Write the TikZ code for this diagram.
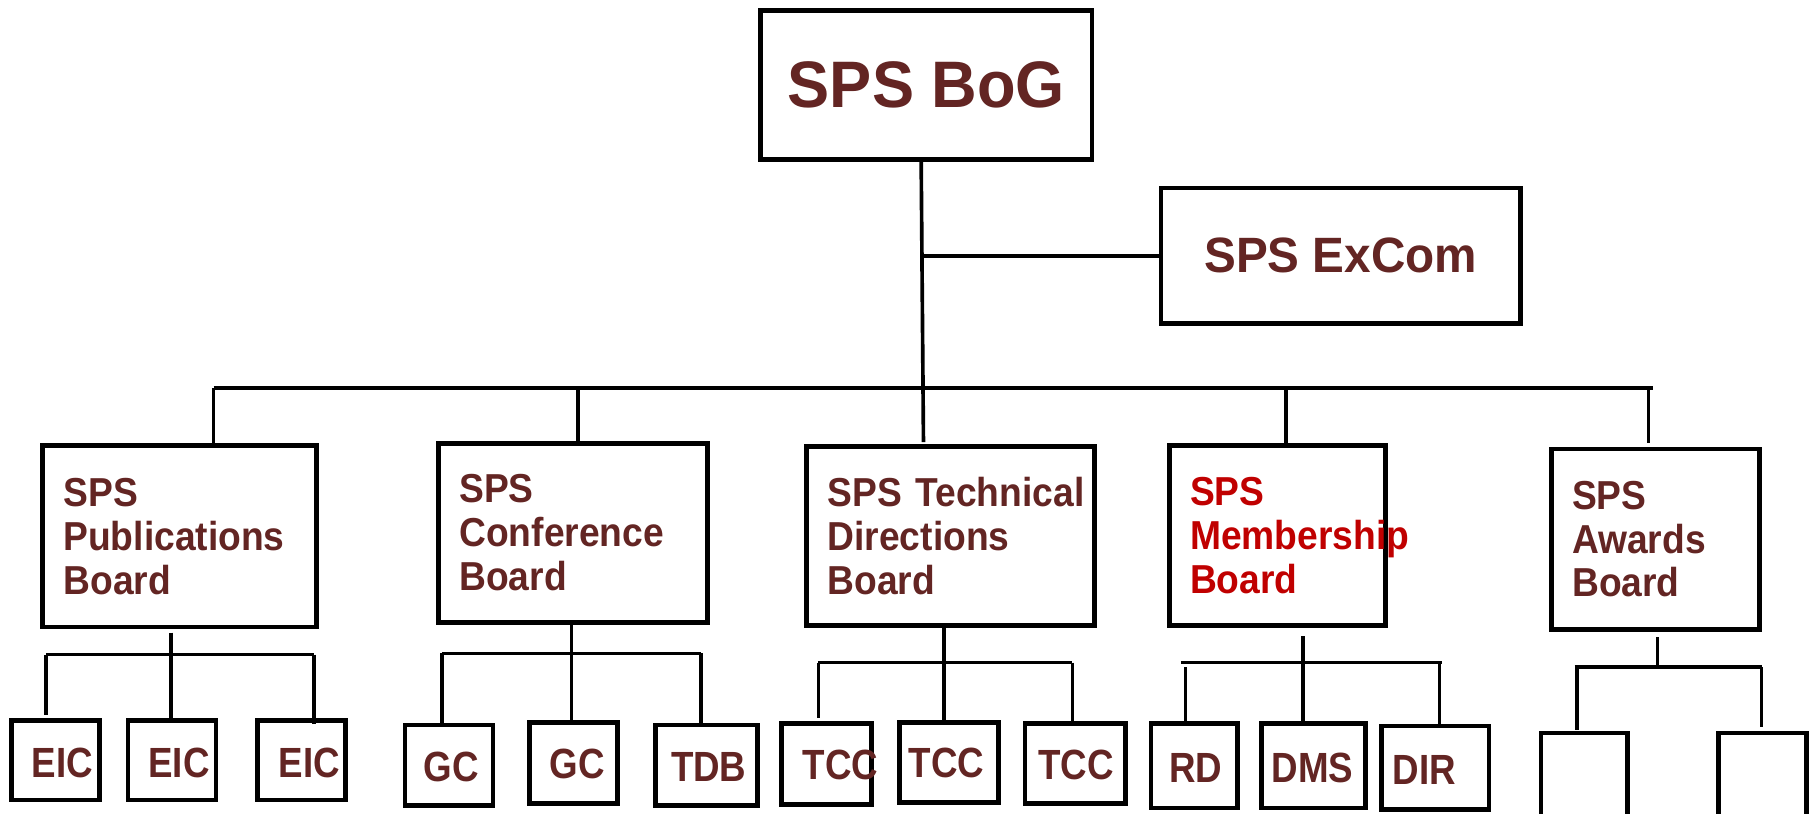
\documentclass[tikz,border=0pt]{standalone}
\usepackage{fontspec}
\setmainfont{Liberation Sans}
\newfontfamily\narrowf[FakeStretch=0.92]{Liberation Sans}
\newfontfamily\smallf[FakeStretch=0.87]{Liberation Sans}
\newfontfamily\titlef[FakeStretch=0.96]{Liberation Sans}
\definecolor{maroon}{RGB}{99,37,35}
\definecolor{memred}{RGB}{192,0,0}
\hyphenpenalty=10000
\exhyphenpenalty=10000
\hbadness=10000
\hfuzz=100pt
\tikzset{
  box/.style={draw=black, line width=1.15pt, inner sep=0pt, outer sep=0pt},
  conn/.style={draw=black, line width=0.9pt},
  board/.style={box, align=left, inner xsep=1.8mm, inner ysep=0pt, text=maroon,
     font=\narrowf\bfseries\fontsize{9.96pt}{10.81pt}\selectfont},
  topbox/.style={box, text=maroon},
  smallbox/.style={box},
  lbl/.style={text=maroon, inner sep=0pt, font=\smallf\bfseries\fontsize{10.4pt}{11pt}\selectfont},
}
\newcommand\mkboard[7]{%
  \pgfmathsetlengthmacro\mybw{(#5-#3)*0.1mm}%
  \pgfmathsetlengthmacro\mybh{(#6-#4)*0.1mm}%
  \pgfmathsetlengthmacro\mytw{(#5-#3-36)*0.1mm}%
  \node[#2, minimum width=\mybw, minimum height=\mybh, text width=\mytw] (#1) at ({(#3+#5)/2},{(#4+#6)/2}) {#7};}
\newcommand\mkbox[7]{%
  \pgfmathsetlengthmacro\mybw{(#5-#3)*0.1mm}%
  \pgfmathsetlengthmacro\mybh{(#6-#4)*0.1mm}%
  \node[#2, minimum width=\mybw, minimum height=\mybh] (#1) at ({(#3+#5)/2},{(#4+#6)/2}) {#7};}
\begin{document}
\begin{tikzpicture}[x=0.01cm, y=-0.01cm]
\useasboundingbox (0,0) rectangle (1568,705);
\fill[white] (0,0) rectangle (1568,705);

% top boxes
\mkbox{bog}{topbox, font=\titlef\bfseries\fontsize{16.2pt}{18pt}\selectfont}{659}{9}{946}{138}{SPS BoG}
\mkbox{excom}{topbox, font=\titlef\bfseries\fontsize{12.23pt}{14pt}\selectfont}{1006}{163}{1317}{280}{SPS ExCom}

% boards
\mkboard{pub}{board}{37}{386}{274}{543}{SPS\\Publications\\Board}
\mkboard{conf}{board}{380}{384}{613}{539}{SPS\\Conference\\Board}
\mkboard{tech}{board}{699}{387}{948}{542}{SPS~Technical\\Directions\\Board}
\mkboard{memb}{board, text=memred}{1013}{386}{1200}{542}{SPS\\Membership\\Board}
\mkboard{award}{board}{1344}{389}{1524}{545}{SPS\\Awards\\Board}

% small boxes
\mkbox{e1}{smallbox}{10}{624}{86}{693}{}
\mkbox{e2}{smallbox}{111}{624}{187}{693}{}
\mkbox{e3}{smallbox}{223}{624}{299}{693}{}
\mkbox{g1}{smallbox}{351}{628}{427}{698}{}
\mkbox{g2}{smallbox}{459}{626}{535}{696}{}
\mkbox{tdb}{smallbox}{568}{628}{656}{698}{}
\mkbox{t1}{smallbox}{677}{627}{755}{697}{}
\mkbox{t2}{smallbox}{779}{626}{865}{695}{}
\mkbox{t3}{smallbox}{888}{627}{975}{696}{}
\mkbox{rd}{smallbox}{997}{627}{1072}{700}{}
\mkbox{dms}{smallbox}{1093}{627}{1183}{700}{}
\mkbox{dir}{smallbox}{1197}{629}{1290}{701}{}
\mkbox{a1}{smallbox}{1335}{635}{1410}{730}{}
\mkbox{a2}{smallbox}{1489}{635}{1565}{730}{}

% labels of small boxes
\node[lbl] (e1l) at (54,661) {EIC};
\node[lbl] (e2l) at (155,661) {EIC};
\node[lbl] (e3l) at (268,661) {EIC};
\node[lbl] (g1l) at (391,664) {GC};
\node[lbl] (g2l) at (500,662) {GC};
\node[lbl] (tdbl) at (614,664) {TDB};
\node[lbl] (t1l) at (728,663) {TCC};
\node[lbl] (t2l) at (820,661) {TCC};
\node[lbl] (t3l) at (932,663) {TCC};
\node[lbl] (rdl) at (1036,665) {RD};
\node[lbl] (dmsl) at (1137,665) {DMS};
\node[lbl] (dirl) at (1234,667) {DIR};

% trunk and bus
\coordinate (trunkTop) at (798,138);
\coordinate (trunkBot) at (800,383);
\draw[conn] (trunkTop) -- (trunkBot);
\draw[conn] (trunkTop |- excom.west) -- (excom.west);
\coordinate (busL) at (185,336);
\coordinate (busR) at (1432,336);
\draw[conn] (busL) -- (busR);
\draw[conn] (busL) -- (busL |- pub.north);
\coordinate (b2) at (501,336);
\draw[conn] (b2) -- (b2 |- conf.north);
\coordinate (b4) at (1114,336);
\draw[conn] (b4) -- (b4 |- memb.north);
\coordinate (b5) at (1428,336);
\draw[conn] (b5) -- (1428,384);

% group 1
\coordinate (p1s) at (148,548);
\draw[conn] (p1s) -- (148,624);
\draw[conn] (40,567) -- (272,567);
\draw[conn] (40,567) -- (40,619);
\draw[conn] (272,567) -- (272,627);
% group 2
\draw[conn] (495,539) -- (495,626);
\draw[conn] (383,566) -- (607,566);
\draw[conn] (383,566) -- (383,628);
\draw[conn] (607,566) -- (607,628);
% group 3
\draw[conn] (818,542) -- (818,626);
\draw[conn] (709,574) -- (929,574);
\draw[conn] (709,574) -- (709,622);
\draw[conn] (929,574) -- (929,627);
% group 4
\draw[conn] (1129,551) -- (1129,627);
\draw[conn] (1023,574) -- (1249,574);
\draw[conn] (1027,578) -- (1027,627);
\draw[conn] (1247,574) -- (1247,630);
% group 5
\draw[conn] (1436,552) -- (1436,578);
\draw[conn] (1364,578) -- (1526,578);
\draw[conn] (1366,578) -- (1366,632);
\draw[conn] (1526,578) -- (1526,630);
\end{tikzpicture}
\end{document}
